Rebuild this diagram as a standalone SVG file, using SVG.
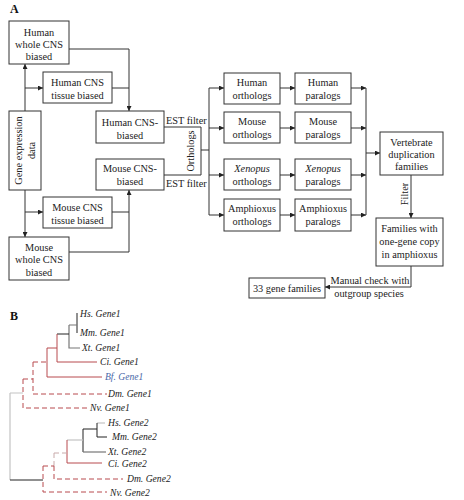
<svg xmlns="http://www.w3.org/2000/svg" width="464" height="500" viewBox="0 0 464 500">
<defs>
<marker id="ah" markerWidth="5" markerHeight="5" refX="5" refY="2.5" orient="auto" markerUnits="userSpaceOnUse">
<path d="M0,0 L5,2.5 L0,5 z" fill="#222"/>
</marker>
<style>
.box{fill:#fff;stroke:#333;stroke-width:1}
.t{font-family:"Liberation Serif","Times New Roman",serif;font-size:10.3px;fill:#222;text-anchor:middle}
.tl{font-family:"Liberation Serif","Times New Roman",serif;font-size:10.3px;fill:#222}
.lab{font-family:"Liberation Serif","Times New Roman",serif;font-size:12px;font-weight:bold;fill:#111}
.c{fill:none;stroke:#333;stroke-width:1}
.ca{fill:none;stroke:#333;stroke-width:1;marker-end:url(#ah)}
.lf{font-family:"Liberation Serif","Times New Roman",serif;font-size:9.6px;font-style:italic;fill:#222}
.blue{fill:#4a68a8}
.k{fill:none;stroke:#222;stroke-width:1}
.g{fill:none;stroke:#777;stroke-width:1.2}
.lg{fill:none;stroke:#c4c4c4;stroke-width:1.2}
.r{fill:none;stroke:#b84a4f;stroke-width:1}
.rd{fill:none;stroke:#b84a4f;stroke-width:1;stroke-dasharray:5,3}
.gd{fill:none;stroke:#c8aaaa;stroke-width:1;stroke-dasharray:5,3}
</style>
</defs>
<rect width="464" height="500" fill="#fff"/>
<text class="lab" x="10" y="13">A</text>
<text class="lab" x="10" y="320">B</text>

<g id="connectors">
<path class="ca" d="M25,111 V64"/>
<path class="ca" d="M25,88 H43"/>
<path class="ca" d="M69,49 H129 V111"/>
<path class="c" d="M112,88 H129"/>
<path class="ca" d="M25,190 V237"/>
<path class="ca" d="M25,212 H43"/>
<path class="c" d="M112,212 H129"/>
<path class="ca" d="M69,252 H129 V190"/>
<path class="c" d="M164,127 H201 V175 H164"/>
<path class="c" d="M201,150 H209 M209,88 V215"/>
<path class="ca" d="M209,88 H224"/>
<path class="ca" d="M209,128 H224"/>
<path class="ca" d="M209,175 H224"/>
<path class="ca" d="M209,215 H224"/>
<path class="ca" d="M280,88 H295"/>
<path class="ca" d="M280,128 H295"/>
<path class="ca" d="M280,175 H295"/>
<path class="ca" d="M280,215 H295"/>
<path class="ca" d="M351,88 H366"/>
<path class="ca" d="M351,128 H366"/>
<path class="ca" d="M351,175 H366"/>
<path class="ca" d="M351,215 H366"/>
<path class="c" d="M366,88 V215"/>
<path class="ca" d="M366,153 H380"/>
<path class="ca" d="M411,175 V218"/>
<path class="ca" d="M411,266 V287 H325"/>
<text class="tl" x="166" y="124">EST filter</text>
<text class="tl" x="166" y="187">EST filter</text>
<text class="t" transform="translate(194,151) rotate(-90)">Orthologs</text>
<text class="t" transform="translate(408,194) rotate(-90)">Filter</text>
<text class="t" x="370" y="284">Manual check with</text>
<text class="t" x="369" y="297">outgroup species</text>
</g>

<g id="human-whole"><rect class="box" x="9" y="21" width="60" height="43"/>
<text class="t" x="39" y="36">Human</text><text class="t" x="39" y="48">whole CNS</text><text class="t" x="39" y="60">biased</text></g>
<g id="human-tissue"><rect class="box" x="43" y="72" width="69" height="31"/>
<text class="t" x="77.5" y="86">Human CNS</text><text class="t" x="77.5" y="99">tissue biased</text></g>
<g id="gene-expression"><rect class="box" x="9" y="111" width="32" height="79"/>
<text class="t" transform="translate(22,150.5) rotate(-90)">Gene expression</text>
<text class="t" transform="translate(35,150.5) rotate(-90)">data</text></g>
<g id="human-cns"><rect class="box" x="96" y="111" width="68" height="32"/>
<text class="t" x="130" y="126">Human CNS-</text><text class="t" x="130" y="139">biased</text></g>
<g id="mouse-cns"><rect class="box" x="96" y="159" width="68" height="31"/>
<text class="t" x="130" y="172">Mouse CNS-</text><text class="t" x="130" y="185">biased</text></g>
<g id="mouse-tissue"><rect class="box" x="43" y="197" width="69" height="31"/>
<text class="t" x="77.5" y="211">Mouse CNS</text><text class="t" x="77.5" y="224">tissue biased</text></g>
<g id="mouse-whole"><rect class="box" x="9" y="237" width="60" height="43"/>
<text class="t" x="39" y="251">Mouse</text><text class="t" x="39" y="263">whole CNS</text><text class="t" x="39" y="276">biased</text></g>

<g id="human-orth"><rect class="box" x="224" y="73" width="56" height="31"/>
<text class="t" x="252" y="86">Human</text><text class="t" x="252" y="99">orthologs</text></g>
<g id="mouse-orth"><rect class="box" x="224" y="112" width="56" height="31"/>
<text class="t" x="252" y="125">Mouse</text><text class="t" x="252" y="138">orthologs</text></g>
<g id="xen-orth"><rect class="box" x="224" y="159" width="56" height="31"/>
<text class="t" x="252" y="172" font-style="italic">Xenopus</text><text class="t" x="252" y="185">orthologs</text></g>
<g id="amph-orth"><rect class="box" x="224" y="199" width="56" height="32"/>
<text class="t" x="252" y="212">Amphioxus</text><text class="t" x="252" y="225">orthologs</text></g>
<g id="human-para"><rect class="box" x="295" y="73" width="56" height="31"/>
<text class="t" x="323" y="86">Human</text><text class="t" x="323" y="99">paralogs</text></g>
<g id="mouse-para"><rect class="box" x="295" y="112" width="56" height="31"/>
<text class="t" x="323" y="125">Mouse</text><text class="t" x="323" y="138">paralogs</text></g>
<g id="xen-para"><rect class="box" x="295" y="159" width="56" height="31"/>
<text class="t" x="323" y="172" font-style="italic">Xenopus</text><text class="t" x="323" y="185">paralogs</text></g>
<g id="amph-para"><rect class="box" x="295" y="199" width="56" height="32"/>
<text class="t" x="323" y="212">Amphioxus</text><text class="t" x="323" y="225">paralogs</text></g>
<g id="vertebrate"><rect class="box" x="380" y="132" width="63" height="43"/>
<text class="t" x="411.5" y="146">Vertebrate</text><text class="t" x="411.5" y="158">duplication</text><text class="t" x="411.5" y="170">families</text></g>
<g id="families"><rect class="box" x="376" y="218" width="67" height="48"/>
<text class="t" x="409.5" y="232">Families with</text><text class="t" x="409.5" y="245">one-gene copy</text><text class="t" x="409.5" y="258">in amphioxus</text></g>
<g id="gene33"><rect class="box" x="249" y="278" width="76" height="20"/>
<text class="t" x="287" y="292">33 gene families</text></g>

<g id="tree">
<path class="k" d="M77,313 V333"/>
<path class="g" d="M69,325 H77 M69,325 V348 H80"/>
<path class="k" d="M57,334 H69"/>
<path class="r" d="M57,334 V362 H97 M47,348 H57 M47,348 V377 H102"/>
<path class="rd" d="M33,362 H47 M33,362 V394 H107"/>
<path class="rd" d="M23,379 H33 M23,379 V408 H88"/>
<path class="lg" d="M10,393 H23 M10,393 V480"/>
<path class="k" d="M10,480 H43"/>
<path class="lg" d="M97,423 H105"/>
<path class="k" d="M97,423 V437 H107"/>
<path class="k" d="M83,429 H97 M83,429 V452"/>
<path class="g" d="M83,452 H106"/>
<path class="lg" d="M67,440 H83"/>
<path class="r" d="M67,440 V463 H102"/>
<path class="gd" d="M54,453 H67 M54,453 V466"/>
<path class="rd" d="M54,466 V479 H123"/>
<path class="rd" d="M43,466 H54 M43,466 V492 H107"/>
<text class="lf" x="80" y="317">Hs. Gene1</text>
<text class="lf" x="80" y="336">Mm. Gene1</text>
<text class="lf" x="82" y="351">Xt. Gene1</text>
<text class="lf" x="100" y="365">Ci. Gene1</text>
<text class="lf blue" x="105" y="380">Bf. Gene1</text>
<text class="lf" x="108" y="397">Dm. Gene1</text>
<text class="lf" x="90" y="411">Nv. Gene1</text>
<text class="lf" x="108" y="426">Hs. Gene2</text>
<text class="lf" x="112" y="440">Mm. Gene2</text>
<text class="lf" x="108" y="455">Xt. Gene2</text>
<text class="lf" x="108" y="467">Ci. Gene2</text>
<text class="lf" x="127" y="482">Dm. Gene2</text>
<text class="lf" x="110" y="496">Nv. Gene2</text>
</g>
</svg>
